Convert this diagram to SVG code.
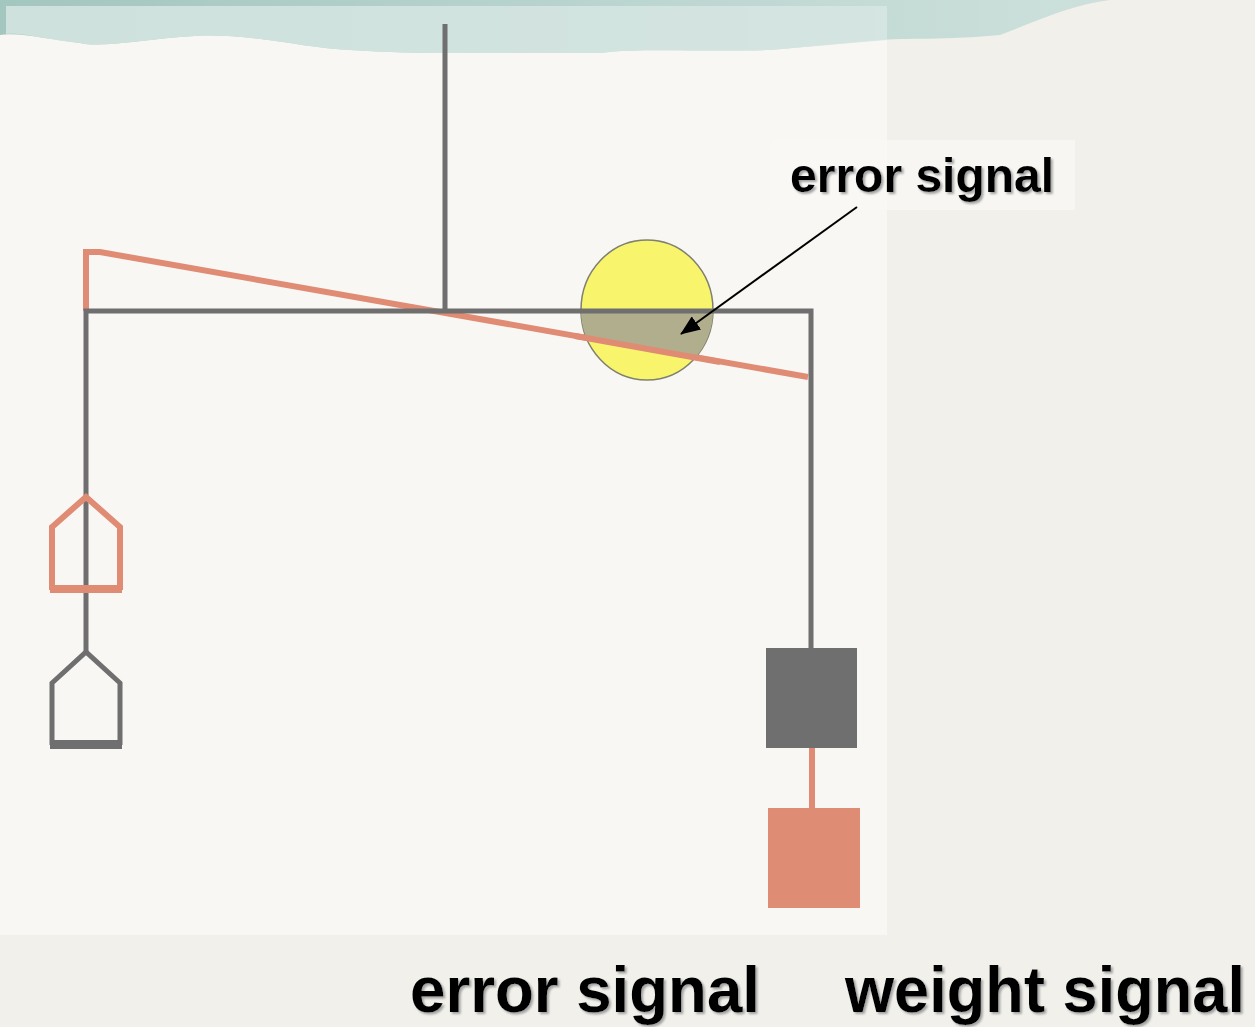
<svg xmlns="http://www.w3.org/2000/svg" width="1255" height="1027" viewBox="0 0 1255 1027">
  <defs>
    <linearGradient id="teal" x1="0" y1="0" x2="1" y2="0">
      <stop offset="0" stop-color="#a3c6bf"/>
      <stop offset="1" stop-color="#d3e4e0"/>
    </linearGradient>
    <filter id="shadow" x="-5%" y="-20%" width="115%" height="150%">
      <feDropShadow dx="2" dy="2" stdDeviation="0.8" flood-color="#9a9a9a" flood-opacity="0.9"/>
    </filter>
    <marker id="arrow" viewBox="0 0 20 16" refX="19" refY="8" markerWidth="20" markerHeight="16" markerUnits="userSpaceOnUse" orient="auto">
      <path d="M0,0 L20,8 L0,16 z" fill="#000"/>
    </marker>
    <clipPath id="circleClip">
      <ellipse cx="647" cy="310" rx="66" ry="70"/>
    </clipPath>
    <style>
      .gray { stroke: #6f6f6f; fill: none; stroke-width: 5; }
      .salmon { stroke: #e08b73; fill: none; stroke-width: 6; }
      .label { font-family: "Liberation Sans", Arial, sans-serif; font-weight: bold; fill: #000; filter: url(#shadow); }
    </style>
  </defs>

  <!-- background -->
  <rect x="0" y="0" width="1255" height="1027" fill="#f1f0eb"/>
  <rect x="0" y="0" width="887" height="935" fill="#f8f7f4"/>
  <!-- top teal band -->
  <path d="M0,0 H1255 V0 H1110 C1070,5 1040,20 1000,35 C950,40 900,38 880,40 L770,50 C700,52 640,48 600,53 C500,52 420,55 350,50 C300,48 240,30 180,37 C140,40 100,48 80,43 C50,40 20,32 0,35 Z" fill="url(#teal)"/>
  <path d="M6,6 H887 V40 L770,50 C700,52 640,48 600,53 C500,52 420,55 350,50 C300,48 240,30 180,37 C140,40 100,48 80,43 C50,40 20,32 6,34 Z" fill="#d8e7e4" opacity="0.8"/>

  <!-- connectors / beams -->
  <g id="connectors">
    <line class="gray" x1="445" y1="24" x2="445" y2="311"/>
    <path class="salmon" d="M86,311 V252 H100 L808,377"/>
    <path class="gray" d="M86,652 V311 H811 V648"/>
    <line class="salmon" x1="812" y1="748" x2="812" y2="808" stroke-width="6"/>
  </g>

  <!-- circle node -->
  <g id="circle">
    <ellipse cx="647" cy="310" rx="66" ry="70" fill="#f8f56c" stroke="#808070" stroke-width="1.5"/>
    <polygon points="570,311 720,311 720,361 570,335" fill="#b1ae8d" clip-path="url(#circleClip)"/>
    <line class="gray" x1="580" y1="311" x2="714" y2="311"/>
    <line class="salmon" x1="575" y1="336" x2="720" y2="362"/>
  </g>

  <!-- left pendulum shapes -->
  <g id="salmon-pan">
    <path class="salmon" stroke-width="4" d="M52,590 V527 L86,497 L120,527 V590"/>
    <rect x="50" y="585" width="72" height="8" fill="#e08b73"/>
  </g>
  <g id="gray-pan">
    <path class="gray" stroke-width="4" d="M52,745 V683 L86,652 L120,683 V745"/>
    <rect x="50" y="740" width="72" height="9" fill="#6f6f6f"/>
  </g>

  <!-- right weights -->
  <g id="gray-weight">
    <rect x="766" y="648" width="91" height="100" fill="#6f6f6f"/>
  </g>
  <g id="salmon-weight">
    <rect x="768" y="808" width="92" height="100" fill="#df8c74"/>
  </g>

  <!-- label with arrow -->
  <g id="error-label">
    <rect x="770" y="140" width="305" height="70" fill="#f9f8f5" opacity="0.7"/>
    <text class="label" x="790" y="192" font-size="48">error signal</text>
    <line x1="857" y1="207" x2="681" y2="334" stroke="#000" stroke-width="2" marker-end="url(#arrow)"/>
  </g>

  <!-- bottom labels -->
  <g id="bottom-error">
    <text class="label" x="410" y="1012" font-size="64" textLength="350" lengthAdjust="spacingAndGlyphs">error signal</text>
  </g>
  <g id="bottom-weight">
    <text class="label" x="845" y="1012" font-size="64" textLength="400" lengthAdjust="spacingAndGlyphs">weight signal</text>
  </g>
</svg>
